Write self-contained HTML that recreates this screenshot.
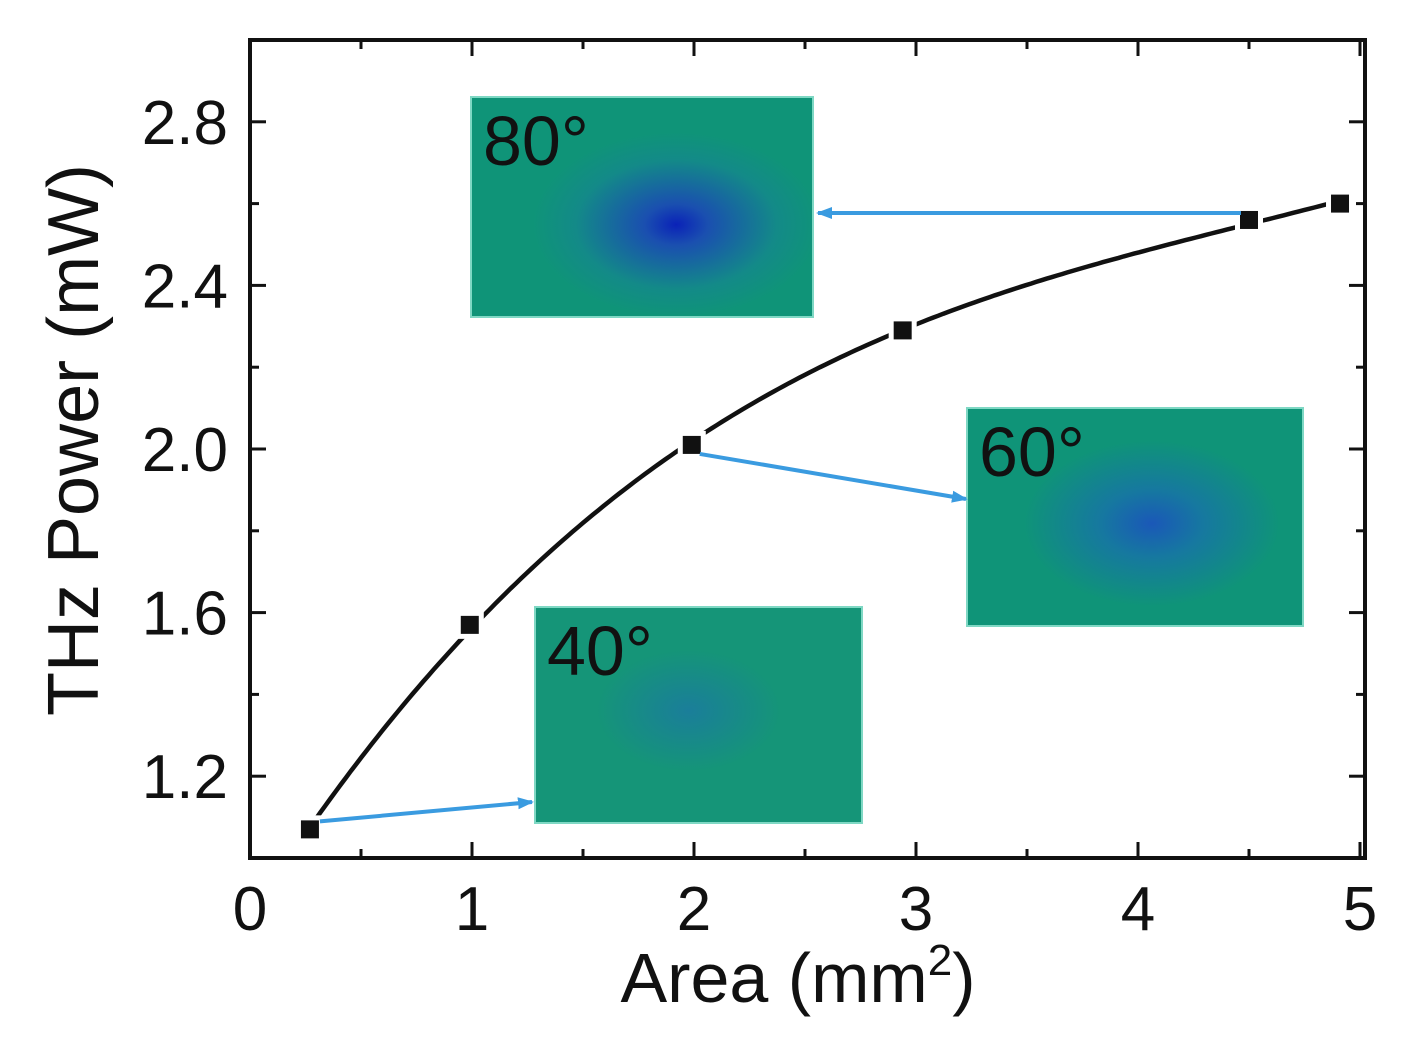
<!DOCTYPE html>
<html><head><meta charset="utf-8"><style>
body{margin:0;background:#fff;width:1419px;height:1040px;overflow:hidden}
svg text{font-family:"Liberation Sans",sans-serif;fill:#111}
</style></head><body>
<svg id="chart" width="1419" height="1040" xmlns="http://www.w3.org/2000/svg">
<defs>
<radialGradient id="g80" cx="0.6" cy="0.58" r="0.42"><stop offset="0" stop-color="#0a22b8"/><stop offset="0.22" stop-color="#1a4fb0"/><stop offset="0.7" stop-color="#138a88"/><stop offset="1" stop-color="#0f9478"/></radialGradient>
<radialGradient id="g60" cx="0.55" cy="0.53" r="0.38"><stop offset="0" stop-color="#1a58b8"/><stop offset="0.4" stop-color="#1678a0"/><stop offset="1" stop-color="#0f9478"/></radialGradient>
<radialGradient id="g40" cx="0.47" cy="0.48" r="0.28"><stop offset="0" stop-color="#1a7e9a"/><stop offset="1" stop-color="#159578"/></radialGradient>
<marker id="ah" markerWidth="16" markerHeight="14" refX="14" refY="7" orient="auto" markerUnits="userSpaceOnUse"><path d="M0,1 L16,7 L0,13 Z" fill="#3a9be0"/></marker>
</defs>
<g id="plot"></g>
</svg>
<script>
const xVals=[0.27,0.99,1.99,2.94,4.50,4.91];
const yVals=[1.07,1.57,2.01,2.29,2.56,2.60];
const xTicks=[0,1,2,3,4,5];
const yTicks=[1.2,1.6,2.0,2.4,2.8];
const yTickLabels=["1.2","1.6","2.0","2.4","2.8"];
const L=250,R=1365,T=40,B=858;
const sx=v=>250+v*222, sy=v=>858-(v-1.0)*409;
const g=document.getElementById('plot');
const NS='http://www.w3.org/2000/svg';
function mk(t,a,p){const e=document.createElementNS(NS,t);for(const k in a)e.setAttribute(k,a[k]);(p||g).appendChild(e);return e;}
const insets=[[471,97,342,220,'g80','80°','inset-80deg'],[967,408,336,218,'g60','60°','inset-60deg'],[535,607,327,216,'g40','40°','inset-40deg']];
insets.forEach(s=>{const gg=mk('g',{});
mk('rect',{x:s[0],y:s[1],width:s[2],height:s[3],fill:'url(#'+s[4]+')',stroke:'#7fd8c4','stroke-width':2},gg);
const t=mk('text',{x:s[0]+12,y:s[1]+68,'font-size':70},gg);t.textContent=s[5];});
const box=mk('rect',{x:L,y:T,width:R-L,height:B-T,fill:'none',stroke:'#111','stroke-width':4});

for(let v=0;v<=5.001;v+=0.5){const x=sx(v),len=Math.abs(v-Math.round(v))<1e-6?16:9;
mk('line',{x1:x,y1:B,x2:x,y2:B-len,stroke:'#111','stroke-width':3});mk('line',{x1:x,y1:T,x2:x,y2:T+len,stroke:'#111','stroke-width':3});}
for(let v=1.0;v<=3.001;v+=0.2){const y=sy(v),len=(Math.round(v*10)%4===0)?16:9;
mk('line',{x1:L,y1:y,x2:L+len,y2:y,stroke:'#111','stroke-width':3});mk('line',{x1:R,y1:y,x2:R-len,y2:y,stroke:'#111','stroke-width':3});}
xTicks.forEach(v=>{const t=mk('text',{x:sx(v),y:930,'font-size':62,'text-anchor':'middle'});t.textContent=v;
});
yTicks.forEach((v,i)=>{const t=mk('text',{x:228,y:sy(v)+22,'font-size':62,'text-anchor':'end'});t.textContent=yTickLabels[i];
});
const xt=mk('text',{x:798,y:1002,'font-size':70,'text-anchor':'middle'});xt.innerHTML='Area (mm<tspan dy="-27" font-size="44">2</tspan><tspan dy="27">)</tspan>';

const yt=mk('text',{x:0,y:0,'font-size':72,'text-anchor':'middle',transform:'translate(98,440) rotate(-90)'});yt.textContent='THz Power (mW)';

function fit(deg){const n=deg+1,A=[],b=[];for(let i=0;i<n;i++){A.push(new Array(n).fill(0));b.push(0);}
xVals.forEach((x,k)=>{for(let i=0;i<n;i++){b[i]+=yVals[k]*Math.pow(x,i);for(let j=0;j<n;j++)A[i][j]+=Math.pow(x,i+j);}});
for(let i=0;i<n;i++){for(let r=i+1;r<n;r++){const f=A[r][i]/A[i][i];for(let j=i;j<n;j++)A[r][j]-=f*A[i][j];b[r]-=f*b[i];}}
const c=new Array(n).fill(0);for(let i=n-1;i>=0;i--){let s=b[i];for(let j=i+1;j<n;j++)s-=A[i][j]*c[j];c[i]=s/A[i][i];}return c;}
const co=fit(3);const f=x=>co.reduce((s,c,i)=>s+c*Math.pow(x,i),0);
let d='';const x0=xVals[0],x1=xVals[xVals.length-1];
for(let i=0;i<=200;i++){const x=x0+(x1-x0)*i/200;d+=(i?'L':'M')+sx(x).toFixed(1)+','+sy(f(x)).toFixed(1);}
const c=mk('path',{d:d,fill:'none',stroke:'#111','stroke-width':4.5});

xVals.forEach((x,i)=>{const px=sx(x),py=sy(yVals[i]);
mk('rect',{x:px-14,y:py-14,width:28,height:28,fill:'#fff'});
const r=mk('rect',{x:px-9,y:py-9,width:18,height:18,fill:'#111'});
});
const arrows=[[sx(xVals[4])-8,sy(yVals[4])-7,818,213],[sx(xVals[2])+8,sy(yVals[2])+9,966,499],[sx(xVals[0])+10,sy(yVals[0])-8,532,802]];
arrows.forEach(a=>{const l=mk('line',{x1:a[0],y1:a[1],x2:a[2],y2:a[3],stroke:'#3a9be0','stroke-width':4,'marker-end':'url(#ah)'});
});
</script>
</body></html>
